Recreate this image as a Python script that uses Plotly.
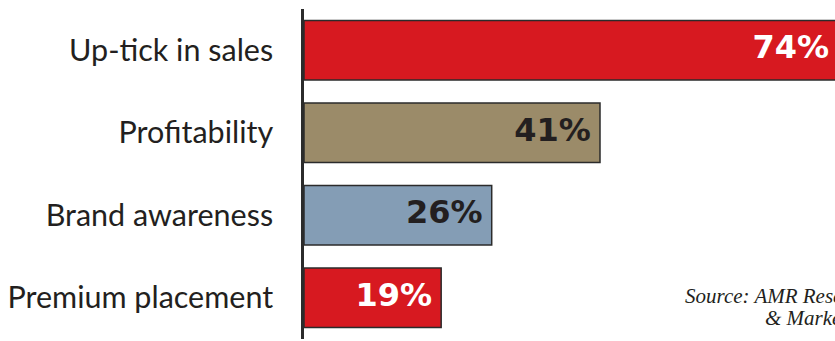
import plotly.graph_objects as go

categories = ["Up-tick in sales", "Profitability", "Brand awareness", "Premium placement"]
values = [74, 41, 26, 19]
labels = ["74%", "41%", "26%", "19%"]
bar_colors = ["#D71920", "#9B8B69", "#849DB5", "#D71920"]
label_colors = ["#FFFFFF", "#231F20", "#231F20", "#FFFFFF"]
source_lines = ["Source: AMR Research", "& Marketing"]

fig = go.Figure()
fig.add_trace(go.Bar(
    x=values, y=categories, orientation="h",
    marker=dict(color=bar_colors, line=dict(color="#2B2B2B", width=1.5)),
    hoverinfo="skip",
))
fig.add_trace(go.Scatter(
    x=values, y=categories, mode="markers+text",
    text=labels, textposition="middle left",
    marker=dict(size=13, color="rgba(0,0,0,0)"),
    textfont=dict(family="DejaVu Sans", size=32, color=label_colors, weight="bold"),
    cliponaxis=True, hoverinfo="skip",
))

fig.add_annotation(text=source_lines[0], xref="paper", yref="paper", x=0.714, y=0.088,
                   xanchor="left", yanchor="bottom", showarrow=False,
                   font=dict(family="Liberation Serif", size=21, color="#231F20", style="italic"))
fig.add_annotation(text=source_lines[1], xref="paper", yref="paper", x=0.865, y=0.022,
                   xanchor="left", yanchor="bottom", showarrow=False,
                   font=dict(family="Liberation Serif", size=21, color="#231F20", style="italic"))

fig.update_layout(
    width=835, height=341,
    margin=dict(l=304, r=0, t=9, b=2),
    paper_bgcolor="white", plot_bgcolor="white",
    showlegend=False, bargap=0.28,
    xaxis=dict(range=[0, 73.55], visible=False, fixedrange=True),
    yaxis=dict(autorange="reversed", showline=True, linecolor="#2B2B2B", linewidth=2.5,
               showgrid=False, zeroline=False, ticks="", ticklabelstandoff=22,
               tickfont=dict(family="Lato", size=30.5, color="#231F20"), fixedrange=True),
)
fig.write_html("out.html", config={"displayModeBar": False})
